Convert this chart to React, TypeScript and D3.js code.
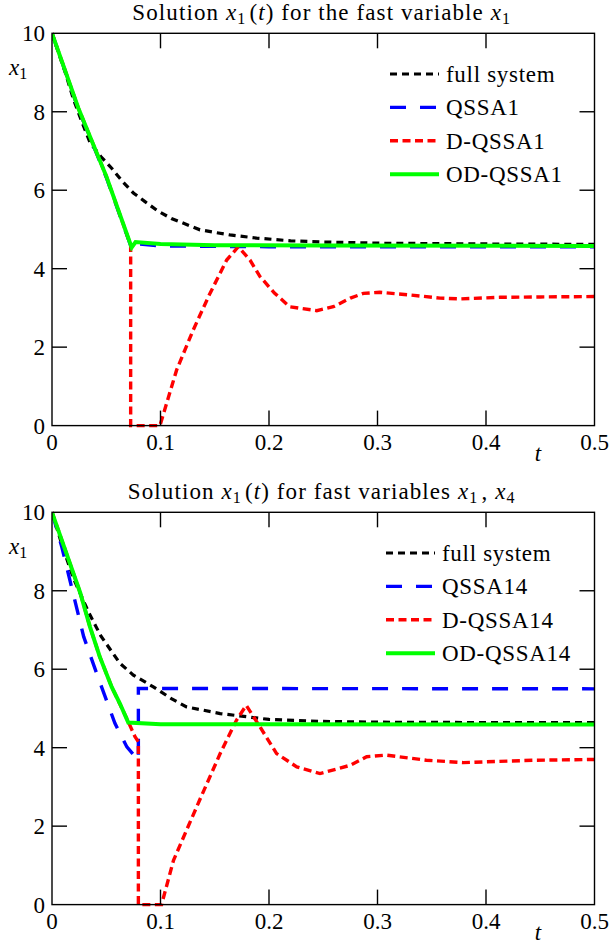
import React from 'react';
import * as d3 from 'd3';

type Pt = [number, number];

// axis ticks shared by both panels
const xTicks = [0, 0.1, 0.2, 0.3, 0.4, 0.5];
const yTicks = [0, 2, 4, 6, 8, 10];

// top panel: fast variable x1
const fullSystemA: Pt[] = [
    [0, 10], [0.006, 9.5], [0.012, 9.02], [0.02, 8.3], [0.0274, 7.75], [0.035, 7.22],
    [0.045, 6.86], [0.055, 6.56], [0.065, 6.22], [0.075, 5.93], [0.0857, 5.71], [0.097, 5.48],
    [0.11, 5.28], [0.1364, 4.99], [0.164, 4.86], [0.1886, 4.78], [0.22, 4.71], [0.25, 4.68],
    [0.3, 4.65], [0.4, 4.63], [0.5, 4.62],
];
const qssa1: Pt[] = [
    [0, 10], [0.0243, 8.07], [0.05, 6.33], [0.0734, 4.52], [0.077, 4.64], [0.1, 4.58],
    [0.2, 4.56], [0.5, 4.56],
];
const dQssa1: Pt[] = [
    [0, 10], [0.0243, 8.09], [0.05, 6.36], [0.0725, 4.6], [0.0725, 0], [0.0995, 0],
    [0.1149, 1.42], [0.1302, 2.44], [0.1456, 3.37], [0.161, 4.22], [0.1717, 4.56],
    [0.1825, 4.22], [0.1917, 3.8], [0.205, 3.38], [0.219, 3.03], [0.2286, 2.99], [0.244, 2.93],
    [0.2593, 3.03], [0.275, 3.25], [0.287, 3.37], [0.302, 3.4], [0.33, 3.33], [0.3576, 3.25],
    [0.376, 3.23], [0.4129, 3.27], [0.45, 3.28], [0.5, 3.29],
];
const odQssa1: Pt[] = [
    [0, 10], [0.0243, 8.09], [0.05, 6.36], [0.0734, 4.54], [0.077, 4.68], [0.1, 4.63],
    [0.15, 4.6], [0.25, 4.59], [0.5, 4.58],
];

// bottom panel: fast variables x1, x4
const fullSystemB: Pt[] = [
    [0, 10], [0.01, 9.1], [0.02, 8.3], [0.0336, 7.46], [0.045, 6.85], [0.055, 6.45],
    [0.0627, 6.15], [0.075, 5.85], [0.0934, 5.55], [0.11, 5.25], [0.124, 5.04], [0.155, 4.87],
    [0.2, 4.72], [0.246, 4.67], [0.3, 4.65], [0.4, 4.64], [0.5, 4.64],
];
const qssa14: Pt[] = [
    [0, 10], [0.009, 9.12], [0.0135, 8.61], [0.0292, 6.83], [0.0412, 5.89], [0.058, 4.62],
    [0.069, 4.02], [0.0796, 3.68], [0.0796, 5.51], [0.5, 5.5],
];
const dQssa14: Pt[] = [
    [0, 10], [0.026, 7.95], [0.035, 7.08], [0.044, 6.32], [0.055, 5.55], [0.0703, 4.66],
    [0.0765, 4.28], [0.0796, 4.15], [0.0796, 0], [0.101, 0], [0.112, 1.13], [0.136, 2.66],
    [0.155, 3.85], [0.17, 4.7], [0.179, 5.08], [0.1917, 4.53], [0.207, 3.85], [0.2256, 3.51],
    [0.247, 3.34], [0.2747, 3.55], [0.29, 3.77], [0.308, 3.81], [0.345, 3.68], [0.379, 3.62],
    [0.4436, 3.68], [0.5, 3.7],
];
const odQssa14: Pt[] = [
    [0, 10], [0.026, 7.95], [0.035, 7.08], [0.044, 6.32], [0.055, 5.55], [0.0627, 5.12],
    [0.0703, 4.64], [0.1, 4.6], [0.15, 4.6], [0.5, 4.59],
];

const legendA = ['full system', 'QSSA1', 'D-QSSA1', 'OD-QSSA1'];
const legendB = ['full system', 'QSSA14', 'D-QSSA14', 'OD-QSSA14'];

const W = 609;
const H = 946;
const FONT = "'Liberation Serif', 'DejaVu Serif', 'Times New Roman', serif";
const FS = 23;
const left = 52;
const right = 594.5;
const plotH = 392.3;

const lineStyles = [
    { color: '#000000', dash: '7,5', width: 3.2 },
    { color: '#0000ff', dash: '16,14', width: 3.4 },
    { color: '#ff0000', dash: '8,4.5', width: 3.4 },
    { color: '#00ff00', dash: undefined, width: 4 },
];

interface PanelProps {
    top: number;
    series: Pt[][];
    labels: string[];
    legendX: number;
    title: React.ReactNode;
}

const Panel: React.FC<PanelProps> = ({ top, series, labels, legendX, title }) => {
    const x = d3.scaleLinear().domain([0, 0.5]).range([left, right]);
    const y = d3.scaleLinear().domain([0, 10]).range([top + plotH, top]);
    const line = d3.line<Pt>().x(d => x(d[0])).y(d => y(d[1]));
    const tick = 15;
    const bottom = top + plotH;

    return (
        <g>
            <text x={(left + right) / 2} y={top - 13} textAnchor="middle" fontSize={FS} letterSpacing={1.1}>{title}</text>

            <defs>
                <clipPath id={`clip${top}`}>
                    <rect x={left} y={top - 3} width={right - left + 3} height={plotH + 6} />
                </clipPath>
            </defs>

            <g clipPath={`url(#clip${top})`}>
                {series.map((s, i) => (
                    <path key={i} d={line(s) ?? ''} fill="none"
                        stroke={lineStyles[i].color} strokeWidth={lineStyles[i].width}
                        strokeDasharray={lineStyles[i].dash} />
                ))}
            </g>

            {/* frame and inner ticks on all four sides */}
            <rect x={left} y={top} width={right - left} height={plotH} fill="none" stroke="#000" strokeWidth={1.4} />
            {xTicks.slice(1, -1).map(t => (
                <g key={t}>
                    <line x1={x(t)} x2={x(t)} y1={bottom} y2={bottom - tick} stroke="#000" strokeWidth={1.4} />
                    <line x1={x(t)} x2={x(t)} y1={top} y2={top + tick} stroke="#000" strokeWidth={1.4} />
                </g>
            ))}
            {yTicks.slice(1, -1).map(v => (
                <g key={v}>
                    <line x1={left} x2={left + tick} y1={y(v)} y2={y(v)} stroke="#000" strokeWidth={1.4} />
                    <line x1={right} x2={right - tick} y1={y(v)} y2={y(v)} stroke="#000" strokeWidth={1.4} />
                </g>
            ))}

            {xTicks.map(t => (
                <text key={t} x={x(t)} y={bottom + 24} textAnchor="middle" fontSize={FS}>{t === 0 ? '0' : d3.format('.1f')(t)}</text>
            ))}
            {yTicks.map(v => (
                <text key={v} x={left - 7} y={y(v) + 8} textAnchor="end" fontSize={FS}>{v}</text>
            ))}

            <text x={9} y={top + 42} fontSize={FS}>
                <tspan fontStyle="italic">x</tspan><tspan fontSize={16} dy={4}>1</tspan>
            </text>
            <text x={x(0.445)} y={bottom + 35} fontSize={FS} fontStyle="italic">t</text>

            {labels.map((lab, i) => {
                const ly = top + 40.7 + i * 33.4;
                return (
                    <g key={lab}>
                        <line x1={legendX} x2={legendX + 49} y1={ly} y2={ly}
                            stroke={lineStyles[i].color} strokeWidth={lineStyles[i].width}
                            strokeDasharray={lineStyles[i].dash} />
                        <text x={legendX + 56} y={ly + 8} fontSize={FS} letterSpacing={0.7}>{lab}</text>
                    </g>
                );
            })}
        </g>
    );
};

const Sub: React.FC<{ c: string }> = ({ c }) => (
    <>
        <tspan fontSize={16} dy={4}>{c}</tspan><tspan dy={-4}>{'\u200a'}</tspan>
    </>
);

const App: React.FC = () => (
    <svg width={W} height={H}
        style={{ position: 'absolute', left: 0, top: 0, background: '#fff', fontFamily: FONT }}>
        <Panel top={33.3} series={[fullSystemA, qssa1, dQssa1, odQssa1]} labels={legendA} legendX={390}
            title={<>Solution <tspan fontStyle="italic">x</tspan><Sub c="1" />(<tspan fontStyle="italic">t</tspan>) for the fast variable <tspan fontStyle="italic">x</tspan><Sub c="1" /></>} />
        <Panel top={512.3} series={[fullSystemB, qssa14, dQssa14, odQssa14]} labels={legendB} legendX={386}
            title={<>Solution <tspan fontStyle="italic">x</tspan><Sub c="1" />(<tspan fontStyle="italic">t</tspan>) for fast variables <tspan fontStyle="italic">x</tspan><Sub c="1" />, <tspan fontStyle="italic">x</tspan><Sub c="4" /></>} />
    </svg>
);

export default App;
